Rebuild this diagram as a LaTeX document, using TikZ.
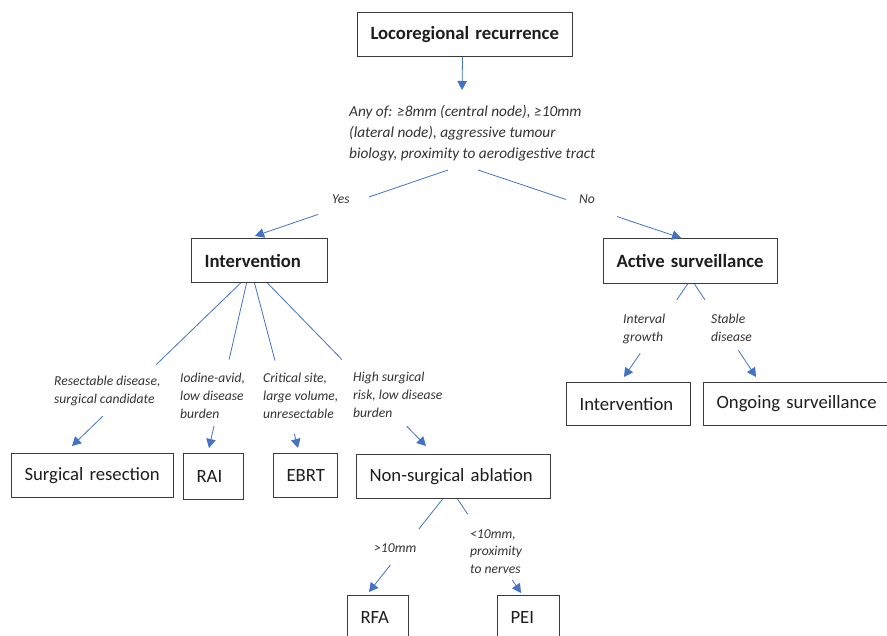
\documentclass[tikz,border=0pt]{standalone}
\usepackage{fontspec}
\setmainfont{Carlito}
\usetikzlibrary{arrows.meta,calc}
\definecolor{lnc}{HTML}{4472C4}
\definecolor{bxc}{HTML}{3A3A3A}
\definecolor{txc}{HTML}{1E1E1E}
\definecolor{lbc}{HTML}{333333}
\newcommand\brkline[4]{%
  \draw[conn] (#1) -- ($(#1)!#3!(#2)$);
  \draw[arr] ($(#1)!#4!(#2)$) -- (#2);}
\begin{document}
\begin{tikzpicture}[x=1pt,y=-1pt,
  box/.style={draw=bxc, line width=1.1pt, anchor=north west, inner xsep=13pt, inner ysep=0pt,
    align=left, text=txc, font=\fontsize{18.7}{22}\selectfont},
  bbox/.style={box, font=\fontsize{18.7}{22}\selectfont\bfseries},
  lab/.style={anchor=north west, inner sep=0pt, align=left, text=lbc,
    font=\fontsize{13.6}{17.8}\selectfont\itshape},
  conn/.style={draw=lnc, line width=0.8pt},
  arr/.style={conn, -{Triangle[length=9pt,width=9.5pt]}}
]
\useasboundingbox (0,0) rectangle (887,636);
\fill[white] (0,0) rectangle (887,636);
\clip (0,0) rectangle (887,636);

% boxes
\node[bbox, text width=189pt, minimum height=44pt] (top) at (357,12) {\mbox{Locoregional recurrence}};
\node[bbox, text width=110pt, minimum height=44pt] (interv) at (191,238) {\mbox{Intervention}};
\node[bbox, text width=148pt, minimum height=45pt] (active) at (603,238) {\mbox{Active surveillance}};
\node[box, text width=136pt, minimum height=44pt] (surg) at (11,453) {\mbox{Surgical resection}};
\node[box, text width=34pt, minimum height=46pt] (rai) at (183,453) {\mbox{RAI}};
\node[box, text width=38pt, minimum height=44pt] (ebrt) at (273,453) {\mbox{EBRT}};
\node[box, text width=168pt, minimum height=44pt] (nsa) at (356,454) {\mbox{Non-surgical ablation}};
\node[box, text width=98pt, minimum height=43pt] (int2) at (566,382) {\mbox{Intervention}};
\node[box, text width=159pt, minimum height=43pt] (ongo) at (703,382) {\mbox{Ongoing surveillance}};
\node[box, text width=35pt, minimum height=44pt] (rfa) at (347,595) {\mbox{RFA}};
\node[box, text width=36pt, minimum height=44pt] (pei) at (497,595) {\mbox{PEI}};

% labels
\node[lab, font=\fontsize{15.3}{21}\selectfont\itshape] (crit) at (349,105)
  {Any of: ≥8mm (central node), ≥10mm\\(lateral node), aggressive tumour\\biology, proximity to aerodigestive tract};
\node[lab] (yes) at (332,195) {Yes};
\node[lab] (no) at (579,195) {No};
\node[lab] (lsurg) at (54,376) {Resectable disease,\\surgical candidate};
\node[lab] (lrai) at (180,373) {Iodine-avid,\\low disease\\burden};
\node[lab] (lebrt) at (263,373) {Critical site,\\large volume,\\unresectable};
\node[lab] (lnsa) at (353,372) {High surgical\\risk, low disease\\burden};
\node[lab] (lint) at (623,314) {Interval\\growth};
\node[lab] (lstab) at (711,314) {Stable\\disease};
\node[lab] (lrfa) at (374,543) {>10mm};
\node[lab] (lpei) at (470,529) {<10mm,\\proximity\\to nerves};

% connectors
\coordinate (a0) at ($(top.south)+(-2.5,0)$);
\coordinate (a1) at (462,90);
\draw[arr] (a0) -- (a1);

\coordinate (ys) at (448,170);
\coordinate (yt) at (255,236);
\brkline{ys}{yt}{0.409}{0.674}
\coordinate (ns) at (478,170);
\coordinate (nt) at (681,238);
\brkline{ns}{nt}{0.433}{0.685}

\coordinate (s1) at ($(interv.south)+(-19,0)$);
\coordinate (t1) at (72,446);
\brkline{s1}{t1}{0.5}{0.817}
\coordinate (s2) at ($(interv.south)+(-13,0)$);
\coordinate (t2) at (209,448);
\brkline{s2}{t2}{0.464}{0.867}
\coordinate (s3) at ($(interv.south)+(-5,0)$);
\coordinate (t3) at (298,448);
\brkline{s3}{t3}{0.47}{0.916}
\coordinate (s4) at ($(interv.south)+(8,0)$);
\coordinate (t4) at (426,446);
\brkline{s4}{t4}{0.47}{0.878}

\coordinate (s5) at ($(active.south)+(-3,0)$);
\coordinate (t5) at (624,377);
\brkline{s5}{t5}{0.17}{0.745}
\coordinate (s6) at ($(active.south)+(4,0)$);
\coordinate (t6) at (756,377);
\brkline{s6}{t6}{0.17}{0.713}

\coordinate (s7) at ($(nsa.south)+(-11,0)$);
\coordinate (t7) at (369,592);
\brkline{s7}{t7}{0.323}{0.71}
\coordinate (s8) at ($(nsa.south)+(4,0)$);
\coordinate (t8) at (521,593);
\brkline{s8}{t8}{0.16}{0.862}
\end{tikzpicture}
\end{document}
